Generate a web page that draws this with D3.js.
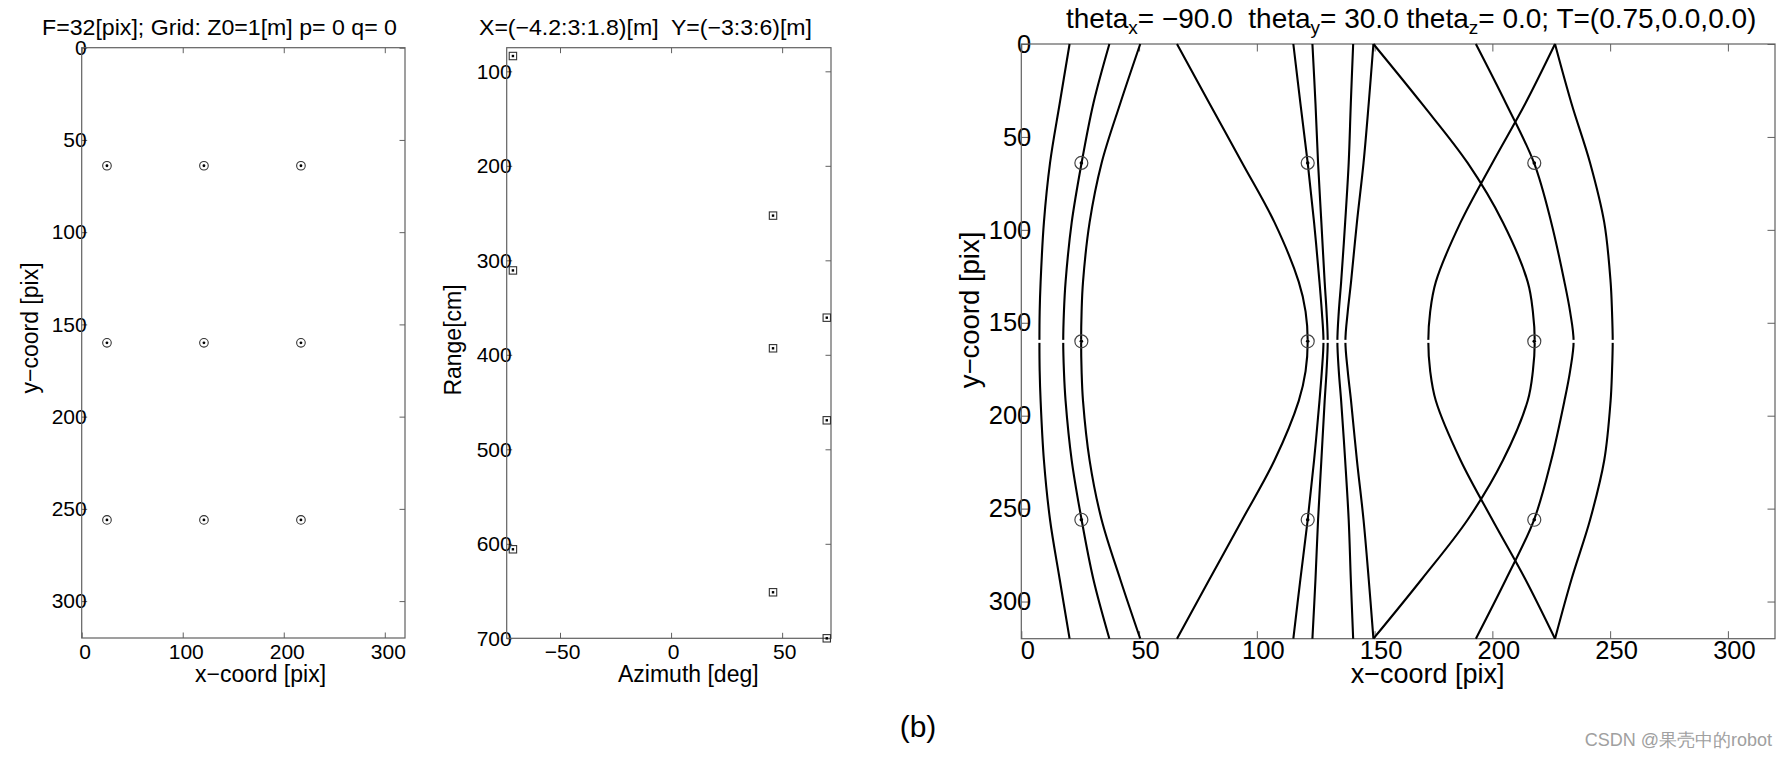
<!DOCTYPE html>
<html>
<head>
<meta charset="utf-8">
<script src="https://cdn.jsdelivr.net/npm/d3@7"></script>
<style>
body { margin: 0; background: #fff; }
text { font-family: "Liberation Sans", Arial, sans-serif; fill: #000; }
</style>
</head>
<body>
<svg id="fig" width="1789" height="759"></svg>
<script>

// DATA ---------------------------------------------------------------

// panel 1: grid points in the image
var gridX = [25, 121, 217];
var gridY = [64, 160, 256];

// panel 2: the same points seen by the sonar
var sonarAz = [-71.2, 45.9, -71.2, 70.1, 45.9, 70.1, -71.2, 45.9, 70.1];
var sonarRange = [83.8, 252.7, 310.7, 360.7, 393.1, 469.3, 605.8, 651.3, 700];

// panel 3: image points and the curves
var imgX = [25.5, 121.6, 217.8];
var imgY = [64, 160, 256];

var curveY = [0, 32, 64, 96, 128, 144, 160, 176, 192, 224, 256, 288, 320];
var curve1  = [20.5, 16.3, 12.2, 9.6, 8.2, 7.8, 7.7, 7.8, 8.2, 9.6, 12.2, 16.3, 20.5];
var curve2  = [37.4, 30.6, 25.6, 21.4, 18.8, 18.1, 17.8, 18.1, 18.8, 21.4, 25.6, 30.6, 37.4];
var curve3  = [50.5, 42.0, 34.1, 29.0, 26.2, 25.6, 25.4, 25.6, 26.2, 29.0, 34.1, 42.0, 50.5];
var curve4  = [66.1, 79.9, 93.8, 107.5, 117.8, 120.7, 121.6, 120.7, 117.8, 107.5, 93.8, 79.9, 66.1];
var curve5  = [115.5, 118.5, 121.6, 124.3, 126.6, 127.6, 128.3, 127.6, 126.6, 124.3, 121.6, 118.5, 115.5];
var curve6  = [123.6, 124.9, 126.0, 127.4, 128.8, 129.6, 130.1, 129.6, 128.8, 127.4, 126.0, 124.9, 123.6];
var curve7  = [140.9, 139.9, 139.0, 137.5, 135.8, 134.8, 134.2, 134.8, 135.8, 137.5, 139.0, 139.9, 140.9];
var curve8  = [149.5, 147.5, 145.3, 142.5, 140.0, 138.6, 137.6, 138.6, 140.0, 142.5, 145.3, 147.5, 149.5];
var curve9  = [149.5, 170.0, 189.5, 204.5, 215.0, 217.2, 218.0, 217.2, 215.0, 204.5, 189.5, 170.0, 149.5];
var curve10 = [226.6, 214.0, 200.0, 186.5, 176.0, 173.6, 172.8, 173.6, 176.0, 186.5, 200.0, 214.0, 226.6];
var curve11 = [193.0, 205.8, 217.7, 225.0, 230.6, 233.0, 234.5, 233.0, 230.6, 225.0, 217.7, 205.8, 193.0];
var curve12 = [226.6, 233.6, 241.5, 247.5, 250.2, 250.8, 251.1, 250.8, 250.2, 247.5, 241.5, 233.6, 226.6];
var curves = [curve1, curve2, curve3, curve4, curve5, curve6, curve7, curve8, curve9, curve10, curve11, curve12];

// tick values
var pixTicks1 = [0, 100, 200, 300];
var pixTicksY = [0, 50, 100, 150, 200, 250, 300];
var azTicks = [-50, 0, 50];
var rangeTicks = [100, 200, 300, 400, 500, 600, 700];
var pixTicks3 = [0, 50, 100, 150, 200, 250, 300];

var title1 = "F=32[pix]; Grid: Z0=1[m] p= 0 q= 0";
var title2 = "X=(\u22124.2:3:1.8)[m]  Y=(\u22123:3:6)[m]";

var svg = d3.select("#fig");
var axisColor = "#606060";


// SCALES -------------------------------------------------------------

var x1 = d3.scaleLinear().domain([0, 320]).range([81.7, 405]);
var y1 = d3.scaleLinear().domain([0, 320]).range([47.7, 638]);

var x2 = d3.scaleLinear().domain([-74, 72]).range([506.7, 831]);
var y2 = d3.scaleLinear().domain([75, 700]).range([47.7, 638.3]);

var x3 = d3.scaleLinear().domain([0, 320]).range([1021.3, 1775]);
var y3 = d3.scaleLinear().domain([0, 320]).range([44, 638.7]);


// AXES ---------------------------------------------------------------

// a boxed matlab style frame, ticks pointing in on all four sides
function frame(x, y, xt, yt, tick, fontSize, xPad, yOver, xShift) {
    var g = svg.append("g");
    var r0 = x.range(), r1 = y.range();

    var bottom = g.append("g").attr("transform", "translate(0," + r1[1] + ")")
        .call(d3.axisBottom(x).tickValues(xt).tickSizeInner(-tick).tickSizeOuter(0)
            .tickPadding(xPad).tickFormat(d3.format("")));
    var top = g.append("g").attr("transform", "translate(0," + r1[0] + ")")
        .call(d3.axisTop(x).tickValues(xt).tickSizeInner(-tick).tickSizeOuter(0).tickFormat(""));
    var left = g.append("g").attr("transform", "translate(" + r0[0] + ",0)")
        .call(d3.axisLeft(y).tickValues(yt).tickSizeInner(-tick).tickSizeOuter(0)
            .tickPadding(-yOver).tickFormat(d3.format("")));
    var right = g.append("g").attr("transform", "translate(" + r0[1] + ",0)")
        .call(d3.axisRight(y).tickValues(yt).tickSizeInner(-tick).tickSizeOuter(0).tickFormat(""));

    [bottom, top, left, right].forEach(a => {
        a.select(".domain").remove();
        a.selectAll("line").attr("stroke", axisColor).attr("stroke-width", 1);
        a.selectAll("text").attr("font-size", fontSize + "px").attr("fill", "#000")
            .attr("font-family", "Liberation Sans, Arial, sans-serif");
    });
    bottom.selectAll("text").attr("dx", xShift);

    g.append("rect")
        .attr("x", r0[0]).attr("y", r1[0])
        .attr("width", r0[1] - r0[0]).attr("height", r1[1] - r1[0])
        .attr("fill", "none").attr("stroke", axisColor).attr("stroke-width", 1.2);
    return g;
}

frame(x1, y1, pixTicks1, pixTicksY, 5.5, 21, 6, 5, 3);
frame(x2, y2, azTicks, rangeTicks, 5.5, 21, 6, 5, 2);
frame(x3, y3, pixTicks3, pixTicks3, 7.5, 25.5, 2, 10, 6);


// TITLES AND LABELS --------------------------------------------------

svg.append("text").attr("x", 42).attr("y", 35)
    .attr("font-size", "22.5px").attr("textLength", 355).attr("lengthAdjust", "spacingAndGlyphs")
    .text(title1);
svg.append("text").attr("x", 479).attr("y", 35)
    .attr("font-size", "22.5px").attr("textLength", 333).attr("lengthAdjust", "spacingAndGlyphs")
    .style("white-space", "pre")
    .text(title2);

var t3 = svg.append("text").attr("x", 1066).attr("y", 28).attr("font-size", "28px")
    .style("white-space", "pre");
t3.append("tspan").text("theta");
t3.append("tspan").attr("font-size", "19px").attr("dy", 6).text("x");
t3.append("tspan").attr("dy", -6).text("= \u221290.0  theta");
t3.append("tspan").attr("font-size", "19px").attr("dy", 6).text("y");
t3.append("tspan").attr("dy", -6).text("= 30.0 theta");
t3.append("tspan").attr("font-size", "19px").attr("dy", 6).text("z");
t3.append("tspan").attr("dy", -6).text("= 0.0; T=(0.75,0.0,0.0)");

// x labels
svg.append("text").attr("x", 195).attr("y", 682).attr("font-size", "23px").text("x\u2212coord [pix]");
svg.append("text").attr("x", 618).attr("y", 682).attr("font-size", "23px").text("Azimuth [deg]");
svg.append("text").attr("x", 1350.7).attr("y", 683).attr("font-size", "27px").text("x\u2212coord [pix]");

// y labels
svg.append("text").attr("transform", "translate(38,328) rotate(-90)")
    .attr("text-anchor", "middle").attr("font-size", "23px").text("y\u2212coord [pix]");
svg.append("text").attr("transform", "translate(461,340) rotate(-90)")
    .attr("text-anchor", "middle").attr("font-size", "23px").text("Range[cm]");
svg.append("text").attr("transform", "translate(979,310) rotate(-90)")
    .attr("text-anchor", "middle").attr("font-size", "27.5px").text("y\u2212coord [pix]");

svg.append("text").attr("x", 918).attr("y", 737).attr("text-anchor", "middle")
    .attr("font-size", "30px").text("(b)");

svg.append("text").attr("x", 1772).attr("y", 746).attr("text-anchor", "end")
    .attr("font-family", "Noto Sans CJK SC, sans-serif")
    .attr("font-size", "18px").style("fill", "#a0a0a0")
    .text("CSDN @\u679c\u58f3\u4e2d\u7684robot");


// MARKS --------------------------------------------------------------

var gridPts = [];
gridY.forEach(gy => gridX.forEach(gx => gridPts.push([gx, gy])));

// panel 1 circles
var p1 = svg.append("g");
p1.selectAll("circle.ring").data(gridPts).enter().append("circle")
    .attr("cx", d => x1(d[0])).attr("cy", d => y1(d[1])).attr("r", 4.3)
    .attr("fill", "none").attr("stroke", "#333").attr("stroke-width", 1.1);
p1.selectAll("circle.dot").data(gridPts).enter().append("circle")
    .attr("cx", d => x1(d[0])).attr("cy", d => y1(d[1])).attr("r", 1.4).attr("fill", "#000");

// panel 2 squares
var p2 = svg.append("g");
var sq = 7.4;
p2.selectAll("rect.box").data(sonarAz).enter().append("rect")
    .attr("x", (d, i) => x2(d) - sq / 2).attr("y", (d, i) => y2(sonarRange[i]) - sq / 2)
    .attr("width", sq).attr("height", sq)
    .attr("fill", "none").attr("stroke", "#333").attr("stroke-width", 1.1);
p2.selectAll("rect.dot").data(sonarAz).enter().append("rect")
    .attr("x", (d, i) => x2(d) - 1.2).attr("y", (d, i) => y2(sonarRange[i]) - 1.2)
    .attr("width", 2.4).attr("height", 2.4).attr("fill", "#000");

// panel 3 curves
var p3 = svg.append("g");
var line = d3.line()
    .x(d => x3(d[0])).y(d => y3(d[1]))
    .curve(d3.curveCatmullRom.alpha(0.5));

p3.selectAll("path.curve").data(curves).enter().append("path")
    .attr("d", c => line(c.map((v, i) => [v, curveY[i]])))
    .attr("fill", "none").attr("stroke", "#000").attr("stroke-width", 2.1);

// small breaks where the two halves of each curve meet
p3.selectAll("rect.gap").data(curves).enter().append("rect")
    .attr("x", c => x3(c[6]) - 3).attr("y", y3(160) - 1.5)
    .attr("width", 6).attr("height", 3).attr("fill", "#fff");

var imgPts = [];
imgY.forEach(gy => imgX.forEach(gx => imgPts.push([gx, gy])));
p3.selectAll("circle.ring").data(imgPts).enter().append("circle")
    .attr("cx", d => x3(d[0])).attr("cy", d => y3(d[1])).attr("r", 6.5)
    .attr("fill", "none").attr("stroke", "#444").attr("stroke-width", 1.2);
p3.selectAll("circle.dot").data(imgPts).enter().append("circle")
    .attr("cx", d => x3(d[0])).attr("cy", d => y3(d[1])).attr("r", 1.8).attr("fill", "#000");

</script>
</body>
</html>
